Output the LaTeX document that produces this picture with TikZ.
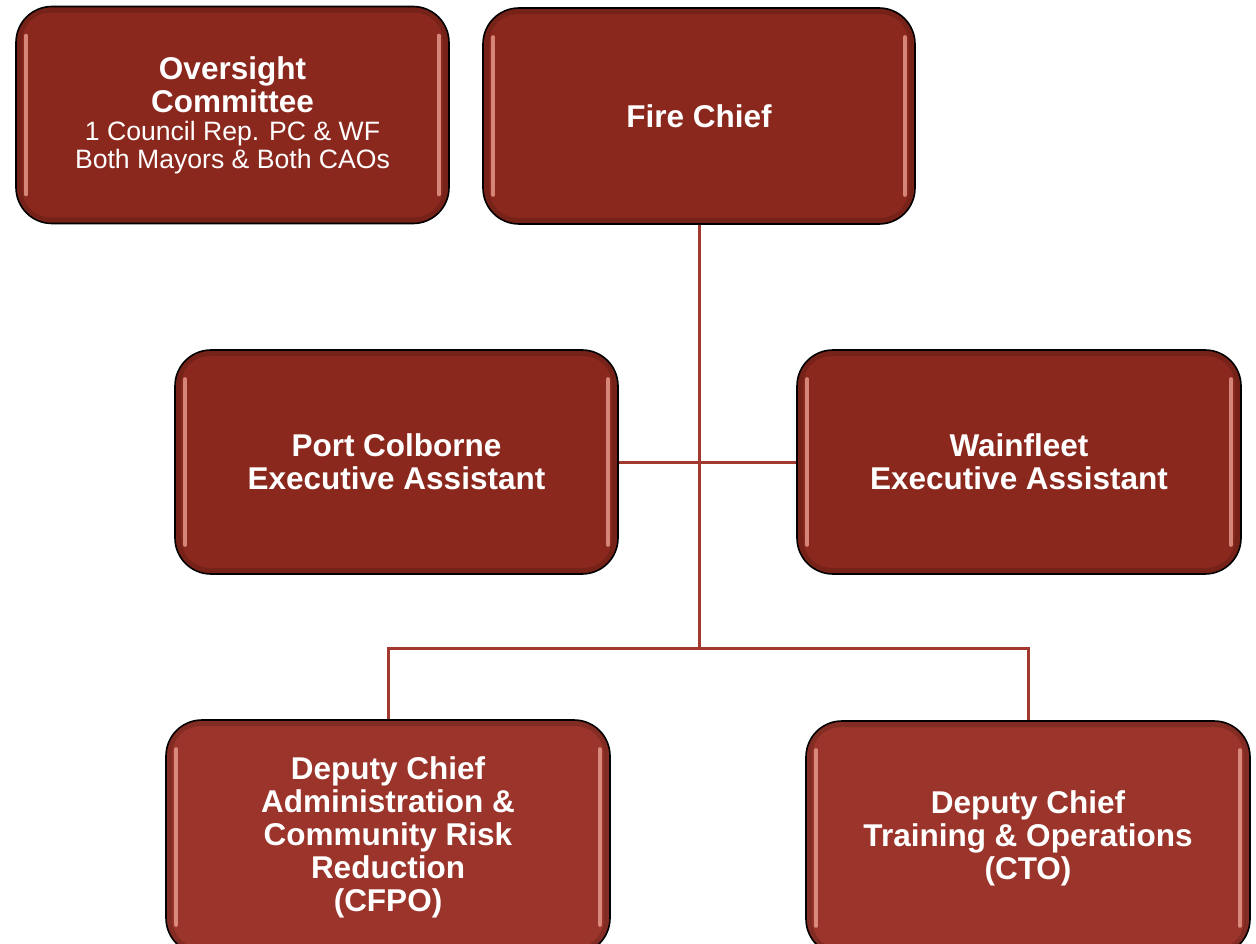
\documentclass[tikz,border=0pt]{standalone}
\usepackage{fontspec}
\setmainfont{Liberation Sans}
\definecolor{boxtop}{RGB}{139,40,29}
\definecolor{boxbot}{RGB}{155,52,42}
\definecolor{conncol}{RGB}{163,56,46}
\definecolor{hlcol}{RGB}{245,175,160}
\tikzset{
  orgbox/.style={draw=black, line width=1.6pt, rounded corners=36pt, fill=boxtop,
    text=white, align=center, inner sep=0pt,
    font=\fontsize{31.5}{33}\selectfont\bfseries},
  lowbox/.style={orgbox, fill=boxbot},
  conn/.style={draw=conncol, line width=3pt},
  hl/.style={draw=hlcol, line width=4pt, line cap=round, opacity=0.7},
  shade/.style={draw=black, line width=6pt, opacity=0.15, rounded corners=31pt}
}
\newcommand\bevel[1]{%
  \draw[shade] ([xshift=4pt,yshift=-4pt]#1.north west) rectangle ([xshift=-4pt,yshift=4pt]#1.south east);
  \draw[hl] ([xshift=11pt,yshift=-30pt]#1.north west) -- ([xshift=11pt,yshift=30pt]#1.south west);
  \draw[hl] ([xshift=-11pt,yshift=-30pt]#1.north east) -- ([xshift=-11pt,yshift=30pt]#1.south east);
}
\begin{document}
\begin{tikzpicture}[x=1pt,y=-1pt]
\clip (0,0) rectangle (1256,944);
\fill[white] (0,0) rectangle (1256,944);

\coordinate (j) at (699,648);

% nodes
\node[orgbox, minimum width=433pt, minimum height=217pt] (ov) at (232.5,115)
  {Oversight\\Committee\\[-5pt]
   {\fontsize{26.6}{28}\selectfont\mdseries 1 Council Rep. PC \& WF}\\[-5pt]
   {\fontsize{26.6}{28}\selectfont\mdseries Both Mayors \& Both CAOs}};
\node[orgbox, minimum width=432pt, minimum height=216pt] (fc) at (699,116) {Fire Chief};
\node[orgbox, minimum width=443pt, minimum height=224pt] (pc) at (396.5,462)
  {Port Colborne\\Executive Assistant};
\node[orgbox, minimum width=444pt, minimum height=224pt] (wf) at (1019,462)
  {Wainfleet\\Executive Assistant};
\node[lowbox, minimum width=444pt, minimum height=234pt] (da) at (388,837)
  {Deputy Chief\\Administration \&\\Community Risk\\Reduction\\(CFPO)};
\node[lowbox, minimum width=444pt, minimum height=234pt] (dt) at (1028,838)
  {Deputy Chief\\Training \& Operations\\(CTO)};

\bevel{ov}
\bevel{fc}
\bevel{pc}
\bevel{wf}
\bevel{da}
\bevel{dt}

% connectors
\draw[conn] (fc.south) -- (j);
\draw[conn] (pc.east) -- (wf.west);
\draw[conn] (da.north) -- (da.north |- j) -- (dt.north |- j) -- (dt.north);
\end{tikzpicture}
\end{document}
